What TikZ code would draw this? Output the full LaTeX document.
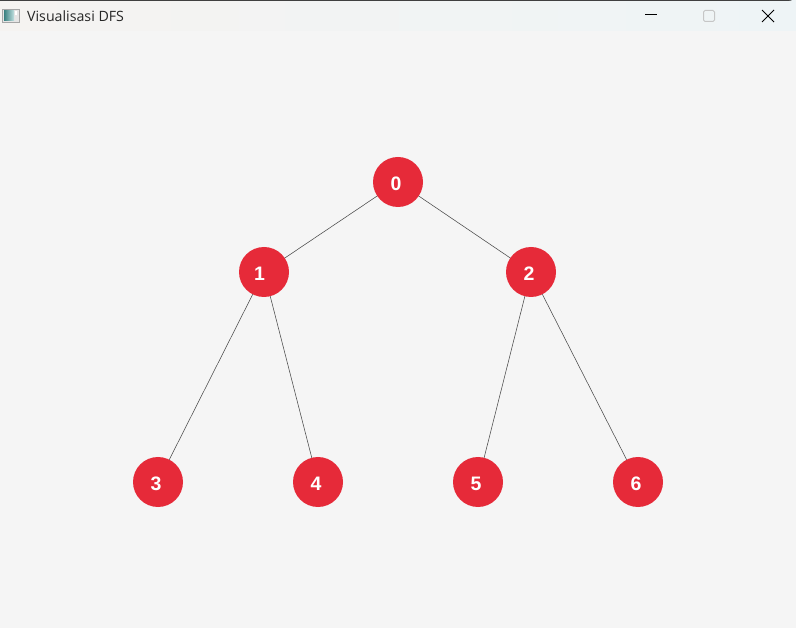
\documentclass[tikz,border=0pt]{standalone}
\usepackage{fontspec}
\setmainfont{Open Sans}
\newfontfamily\digitfont{Liberation Sans}
\definecolor{canvasgray}{HTML}{F5F5F5}
\definecolor{noderedc}{HTML}{E62A39}
\definecolor{barleft}{HTML}{F5F3F1}
\definecolor{barright}{HTML}{EEF4F6}
\definecolor{edgegray}{HTML}{4A4A4A}
\tikzset{
  vertex/.style={circle,fill=noderedc,draw=none,minimum size=50pt,inner sep=0pt,outer sep=0pt},
  digit/.style={text=white,inner sep=0pt,font=\digitfont\bfseries\fontsize{19.5}{19.5}\selectfont},
  link/.style={draw=edgegray,line width=0.55pt},
  title/.style={anchor=base west,inner sep=0pt,text=black!85,font=\fontsize{14.2}{16}\selectfont}
}
\begin{document}
\begin{tikzpicture}[x=1pt,y=-1pt]
\useasboundingbox (0,0) rectangle (796,628);
\fill[canvasgray] (0,0) rectangle (796,628);
% title bar
\fill[left color=barleft,right color=barright] (0,0) rectangle (796,31);
\fill[white] (788,0) rectangle (796,8);
\fill[left color=barleft,right color=barright] (0,1) -- (788,1) arc[start angle=90,end angle=0,radius=8] -- (796,31) -- (0,31) -- cycle;
\draw[black!75,line width=1pt] (0,0.5) -- (788,0.5) arc[start angle=90,end angle=0,radius=7.5];
% window icon
\fill[white!90!black] (2,9) rectangle (20,23);
\draw[gray!70,line width=0.8pt] (2.5,9.5) rectangle (19.5,22.5);
\fill[left color=teal!55!gray,right color=teal!25!white] (4,11) rectangle (14,21);
\fill[white] (15,11) rectangle (17,15);
% title
\node[title] (wintitle) at (27,22) {Visualisasi DFS};
% window buttons
\draw[black,line width=1pt] (645,15) -- (657,15);
\draw[gray!45,line width=1pt,rounded corners=1.5pt] (703.5,10.5) rectangle (714.5,21.5);
\draw[black,line width=1pt] (762,10) -- (774,22) (774,10) -- (762,22);
% vertices
\node[vertex] (n0) at (398,182) {};
\node[vertex] (n1) at (264,272) {};
\node[vertex] (n2) at (531,272) {};
\node[vertex] (n3) at (158,482) {};
\node[vertex] (n4) at (318,482) {};
\node[vertex] (n5) at (478,482) {};
\node[vertex] (n6) at (638,482) {};
% edges
\draw[link] (n0) -- (n1);
\draw[link] (n0) -- (n2);
\draw[link] (n1) -- (n3);
\draw[link] (n1) -- (n4);
\draw[link] (n2) -- (n5);
\draw[link] (n2) -- (n6);
% digits
\node[digit] (d0) at (396,184) {0};
\node[digit] (d1) at (259.5,274) {1};
\node[digit] (d2) at (529,274) {2};
\node[digit] (d3) at (156,484) {3};
\node[digit] (d4) at (316,484) {4};
\node[digit] (d5) at (476,484) {5};
\node[digit] (d6) at (636,484) {6};
\end{tikzpicture}
\end{document}
